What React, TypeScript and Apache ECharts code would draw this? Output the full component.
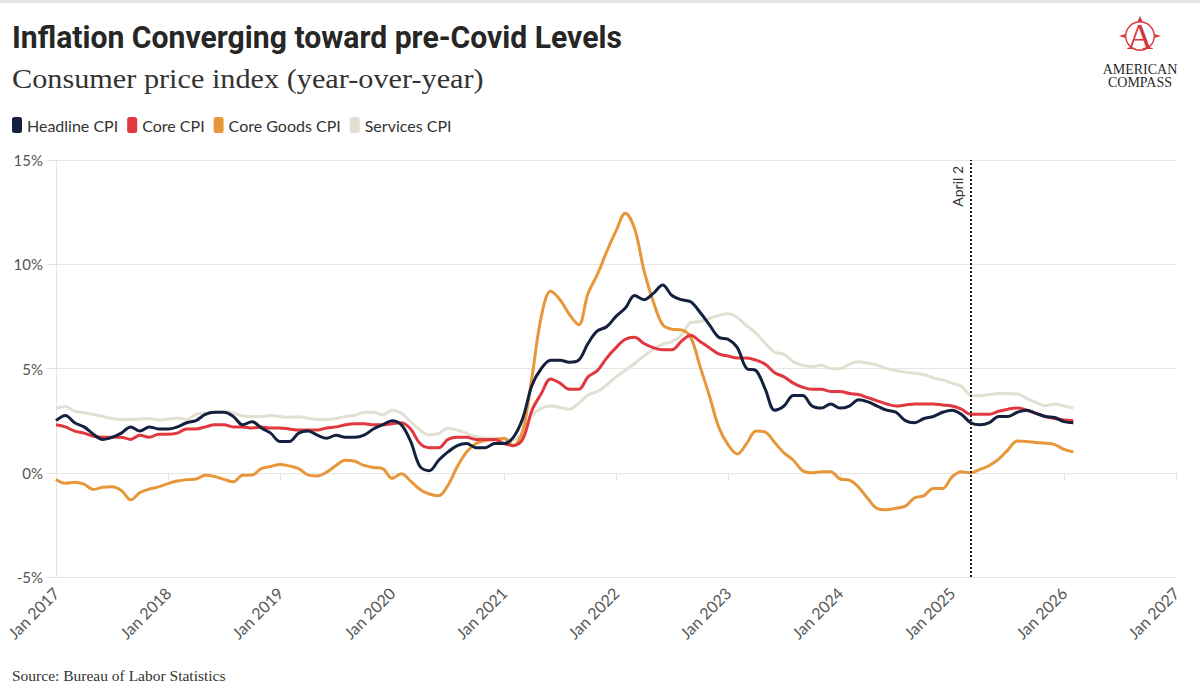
import React, { useEffect, useRef } from "react";
import * as echarts from "echarts";

const TITLE = "Inflation Converging toward pre-Covid Levels";
const SUBTITLE = "Consumer price index (year-over-year)";
const SOURCE = "Source: Bureau of Labor Statistics";
const MARK_LABEL = "April 2";
const MARK_MONTH = "Mar 2025";

const MONTH_NAMES = ["Jan", "Feb", "Mar", "Apr", "May", "Jun", "Jul", "Aug", "Sep", "Oct", "Nov", "Dec"];
const YEARS = [2017, 2018, 2019, 2020, 2021, 2022, 2023, 2024, 2025, 2026];
const LAST_TICK = "Jan 2027";
const Y_TICKS = [-5, 0, 5, 10, 15];

const SERIES_NAMES = ["Headline CPI", "Core CPI", "Core Goods CPI", "Services CPI"];
const SERIES_COLORS = ["#13213f", "#e0383e", "#e8963a", "#e3dfd3"];

// Jan 2017 ... Feb 2026, monthly
const headline = [
  2.5, 2.75, 2.4, 2.2, 1.85, 1.6, 1.7, 1.9, 2.2, 2.0, 2.2, 2.1,
  2.1, 2.2, 2.4, 2.5, 2.8, 2.9, 2.9, 2.7, 2.3, 2.45, 2.15, 1.9,
  1.5, 1.5, 1.9, 2.0, 1.8, 1.65, 1.8, 1.7, 1.7, 1.8, 2.1, 2.3,
  2.5, 2.3, 1.5, 0.3, 0.1, 0.6, 1.0, 1.3, 1.4, 1.2, 1.2, 1.4,
  1.4, 1.7, 2.6, 4.2, 5.0, 5.4, 5.4, 5.3, 5.4, 6.2, 6.8, 7.0,
  7.5, 7.9, 8.5, 8.3, 8.6, 9.0, 8.5, 8.3, 8.2, 7.7, 7.1, 6.5,
  6.4, 6.0, 5.0, 4.9, 4.0, 3.0, 3.2, 3.7, 3.7, 3.2, 3.1, 3.3,
  3.1, 3.2, 3.5, 3.4, 3.2, 3.0, 2.9, 2.5, 2.4, 2.6, 2.7, 2.9,
  3.0, 2.8, 2.4, 2.3, 2.4, 2.7, 2.7, 2.9, 3.0, 2.85, 2.7, 2.65,
  2.45, 2.4,
];

const core = [
  2.3, 2.2, 2.0, 1.9, 1.75, 1.7, 1.7, 1.7, 1.6, 1.8, 1.7, 1.85,
  1.85, 1.9, 2.1, 2.1, 2.2, 2.3, 2.3, 2.2, 2.2, 2.15, 2.2, 2.15,
  2.15, 2.1, 2.05, 2.05, 2.05, 2.15, 2.2, 2.3, 2.35, 2.35, 2.3, 2.3,
  2.35, 2.4, 2.1, 1.4, 1.2, 1.2, 1.6, 1.7, 1.7, 1.6, 1.6, 1.6,
  1.4, 1.3, 1.6, 3.0, 3.8, 4.5, 4.3, 4.0, 4.0, 4.6, 4.9, 5.5,
  6.0, 6.4, 6.5, 6.2, 6.0, 5.9, 5.9, 6.3, 6.6, 6.3, 6.0, 5.7,
  5.6, 5.5, 5.5, 5.4, 5.2, 4.8, 4.6, 4.3, 4.1, 4.0, 4.0, 3.9,
  3.9, 3.8, 3.75, 3.6, 3.45, 3.3, 3.2, 3.25, 3.3, 3.3, 3.3, 3.25,
  3.2, 3.05, 2.8, 2.8, 2.8, 2.95, 3.05, 3.1, 3.0, 2.85, 2.7, 2.6,
  2.53, 2.5,
];

const coreGoods = [
  -0.32, -0.5, -0.45, -0.55, -0.8, -0.7, -0.67, -0.85, -1.3, -0.95, -0.78, -0.68,
  -0.52, -0.4, -0.33, -0.3, -0.12, -0.18, -0.32, -0.43, -0.12, -0.11, 0.2, 0.3,
  0.4, 0.33, 0.2, -0.1, -0.15, 0.03, 0.35, 0.6, 0.55, 0.35, 0.25, 0.2,
  -0.27, -0.05, -0.4, -0.8, -1.02, -1.1, -0.6, 0.3, 1.0, 1.4, 1.55, 1.6,
  1.65, 1.3, 2.0, 4.6, 7.5, 8.7, 8.3, 7.6, 7.1, 8.6, 9.5, 10.6,
  11.6, 12.45, 11.7, 9.7, 8.2, 7.1, 6.88, 6.85, 6.5, 5.1, 3.7, 2.2,
  1.35, 0.9, 1.4, 2.0, 1.95, 1.45, 0.95, 0.6, 0.1, 0.0, 0.05, 0.05,
  -0.3, -0.35, -0.7, -1.25, -1.72, -1.78, -1.7, -1.6, -1.2, -1.1, -0.75, -0.75,
  -0.2, 0.05, 0.0, 0.16, 0.35, 0.65, 1.1, 1.52, 1.5, 1.45, 1.42, 1.35,
  1.12, 1.0,
];

const services = [
  3.1, 3.18, 2.95, 2.88, 2.8, 2.7, 2.6, 2.55, 2.55, 2.58, 2.6, 2.53,
  2.58, 2.62, 2.56, 2.8, 2.85, 2.9, 2.93, 2.88, 2.72, 2.7, 2.7, 2.75,
  2.7, 2.66, 2.68, 2.62, 2.55, 2.55, 2.6, 2.7, 2.75, 2.9, 2.9, 2.78,
  3.0, 2.85, 2.45, 2.05, 1.81, 1.89, 2.13, 2.05, 1.89, 1.73, 1.65, 1.65,
  1.6, 1.57, 1.97, 2.77, 3.09, 3.2, 3.14, 3.04, 3.33, 3.73, 3.89, 4.21,
  4.6, 4.92, 5.24, 5.6, 5.92, 6.17, 6.29, 6.6, 7.2, 7.25, 7.4, 7.55,
  7.62, 7.45, 7.05, 6.7, 6.2, 5.78, 5.68, 5.33, 5.15, 5.1, 5.15, 5.0,
  4.99, 5.2, 5.32, 5.25, 5.17, 5.0, 4.9, 4.82, 4.77, 4.7, 4.55, 4.45,
  4.3, 4.15, 3.72, 3.69, 3.75, 3.8, 3.8, 3.78, 3.57, 3.38, 3.22, 3.3,
  3.2, 3.1,
];

const SERIES_DATA = [headline, core, coreGoods, services];

const categories: string[] = YEARS.flatMap((y) => MONTH_NAMES.map((m) => `${m} ${y}`)).concat([LAST_TICK]);

function measure(text: string, font: string): number {
  const c = document.createElement("canvas");
  const ctx = c.getContext("2d");
  if (!ctx) return 0;
  ctx.font = font;
  return ctx.measureText(text).width;
}

export default function App() {
  const ref = useRef<HTMLDivElement>(null);

  useEffect(() => {
    document.body.style.margin = "0";
    document.body.style.background = "#ffffff";
    if (!ref.current) return;
    const chart = echarts.init(ref.current, undefined, { renderer: "svg" });

    const titleFont = "bold 32px Roboto";
    const subFont = "28px 'Liberation Serif'";
    const tw = measure(TITLE, titleFont) || 700;
    const sw = measure(SUBTITLE, subFont) || 470;
    const titleScale = 610 / tw;
    const subScale = 472 / sw;

    const red = "#d8353b";

    const option: any = {
      animation: false,
      backgroundColor: "#ffffff",
      color: SERIES_COLORS,
      grid: { left: 56, right: 24, top: 160, bottom: 119, containLabel: false },
      legend: {
        left: 12,
        top: 117,
        padding: 0,
        itemWidth: 10,
        itemHeight: 16,
        itemGap: 9,
        icon: "roundRect",
        data: SERIES_NAMES,
        textStyle: { fontFamily: "Lato", fontSize: 16, color: "#333" },
      },
      xAxis: {
        type: "category",
        data: categories,
        boundaryGap: false,
        axisLine: { show: false },
        axisTick: { show: true, interval: 11, length: 8, lineStyle: { color: "#e3e3e3" } },
        axisLabel: {
          interval: 11,
          rotate: 45,
          margin: 13,
          fontFamily: "Lato",
          fontSize: 16,
          color: "#555",
        },
        splitLine: { show: false },
      },
      yAxis: {
        type: "value",
        min: Y_TICKS[0],
        max: Y_TICKS[Y_TICKS.length - 1],
        interval: 5,
        axisLine: { show: true, lineStyle: { color: "#e3e3e3" } },
        axisTick: { show: true, length: 9, lineStyle: { color: "#e3e3e3" } },
        axisLabel: {
          formatter: "{value}%",
          margin: 13,
          fontFamily: "Lato",
          fontSize: 15,
          color: "#555",
        },
        splitLine: { show: true, lineStyle: { color: "#e6e6e6", width: 1.2 } },
      },
      series: SERIES_NAMES.map((name, i) => ({
        name,
        type: "line",
        data: SERIES_DATA[i],
        smooth: 0.35,
        showSymbol: false,
        symbol: "none",
        z: i === 3 ? 1 : 5 - i,
        lineStyle: { width: 3, color: SERIES_COLORS[i] },
        itemStyle: { color: SERIES_COLORS[i] },
        markLine:
          i === 0
            ? {
                silent: true,
                symbol: ["none", "none"],
                lineStyle: { type: [2, 2], color: "#1a1a1a", width: 2 },
                label: {
                  show: true,
                  formatter: MARK_LABEL,
                  position: "insideEndTop",
                  fontFamily: "Lato",
                  fontSize: 14,
                  color: "#333",
                  distance: 6,
                },
                data: [{ xAxis: MARK_MONTH }],
              }
            : undefined,
      })),
      graphic: [
        { type: "rect", shape: { x: 0, y: 0, width: 1200, height: 3 }, style: { fill: "#e4e4e4" }, silent: true },
        {
          type: "text",
          x: 12,
          y: 37,
          scaleX: titleScale,
          style: { text: TITLE, x: 0, y: 0, font: titleFont, fill: "#262626", verticalAlign: "middle", align: "left" },
        },
        {
          type: "text",
          x: 12,
          y: 78,
          scaleX: subScale,
          style: { text: SUBTITLE, x: 0, y: 0, font: subFont, fill: "#333", verticalAlign: "middle", align: "left" },
        },
        {
          type: "text",
          x: 12,
          y: 675,
          style: { text: SOURCE, x: 0, y: 0, font: "15.5px 'Liberation Serif'", fill: "#333", verticalAlign: "middle", align: "left" },
        },
        // logo
        {
          type: "ring",
          shape: { cx: 1140, cy: 36, r: 15, r0: 13.6 },
          style: { fill: red },
        },
        { type: "polygon", shape: { points: [[1119, 36], [1125.5, 34], [1125.5, 38]] }, style: { fill: red } },
        { type: "polygon", shape: { points: [[1161, 36], [1154.5, 34], [1154.5, 38]] }, style: { fill: red } },
        { type: "polygon", shape: { points: [[1140, 16], [1137.5, 21.5], [1142.5, 21.5]] }, style: { fill: red } },
        {
          type: "text",
          x: 1140,
          y: 37,
          style: { text: "A", x: 0, y: 0, font: "36px 'Liberation Serif'", fill: red, align: "center", verticalAlign: "middle" },
        },
        {
          type: "text",
          x: 1140,
          y: 69.5,
          style: { text: "AMERICAN", x: 0, y: 0, font: "14px 'Liberation Serif'", fill: "#2a2a2a", align: "center", verticalAlign: "middle" },
        },
        {
          type: "text",
          x: 1140,
          y: 82.5,
          style: { text: "COMPASS", x: 0, y: 0, font: "14px 'Liberation Serif'", fill: "#2a2a2a", align: "center", verticalAlign: "middle" },
        },
      ],
    };

    chart.setOption(option);
    return () => chart.dispose();
  }, []);

  return <div ref={ref} style={{ width: 1200, height: 696 }} />;
}
